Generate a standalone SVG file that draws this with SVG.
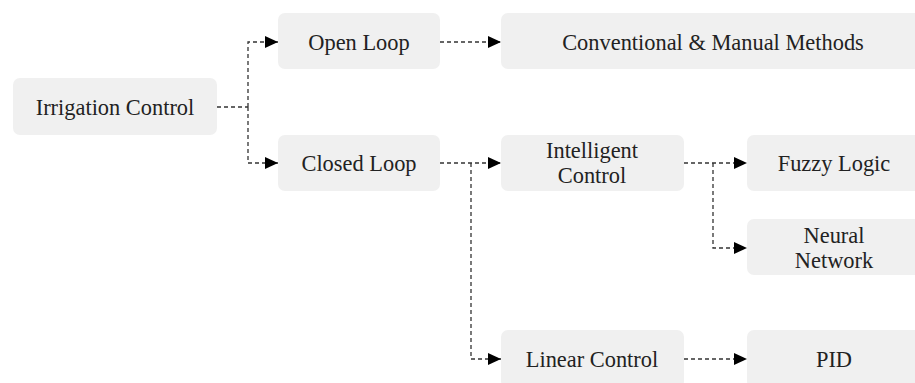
<svg xmlns="http://www.w3.org/2000/svg" width="915" height="383" viewBox="0 0 915 383">
  <style>
    .box { fill: #f0f0f0; }
    .lbl { font-family: 'Liberation Serif', 'Times New Roman', Times, serif; font-size: 22.4px; fill: #222; text-anchor: middle; }
    .link { fill: none; stroke: #333; stroke-width: 1.3; stroke-dasharray: 4 3; }
    .arr { marker-end: url(#head); }
  </style>
  <defs>
    <marker id="head" markerUnits="userSpaceOnUse" markerWidth="13" markerHeight="12" refX="13" refY="6" orient="auto">
      <path d="M0,0 L13,6 L0,12 z" fill="#000"/>
    </marker>
  </defs>
  <rect width="915" height="383" fill="#fff"/>

  <g id="connectors">
    <path class="link" d="M217,107 H248"/>
    <path class="link arr" d="M248,107 V42 H278"/>
    <path class="link arr" d="M248,107 V163 H278"/>
    <path class="link arr" d="M440,42 H501"/>
    <path class="link arr" d="M440,163 H501"/>
    <path class="link arr" d="M471,163 V359 H501"/>
    <path class="link arr" d="M684,163 H747"/>
    <path class="link arr" d="M713,163 V248 H747"/>
    <path class="link arr" d="M684,359 H747"/>
  </g>

  <g id="irrigation-control">
    <rect class="box" x="13" y="78" width="204" height="57" rx="7"/>
    <text class="lbl" x="115" y="115">Irrigation Control</text>
  </g>
  <g id="open-loop">
    <rect class="box" x="278" y="13" width="162" height="56" rx="7"/>
    <text class="lbl" x="359" y="50">Open Loop</text>
  </g>
  <g id="conventional-manual">
    <rect class="box" x="501" y="13" width="424" height="56" rx="7"/>
    <text class="lbl" x="713" y="50">Conventional &amp; Manual Methods</text>
  </g>
  <g id="closed-loop">
    <rect class="box" x="278" y="135" width="162" height="56" rx="7"/>
    <text class="lbl" x="359" y="171">Closed Loop</text>
  </g>
  <g id="intelligent-control">
    <rect class="box" x="501" y="135" width="183" height="56" rx="7"/>
    <text class="lbl" x="592" y="158">Intelligent</text>
    <text class="lbl" x="592" y="183">Control</text>
  </g>
  <g id="fuzzy-logic">
    <rect class="box" x="747" y="135" width="175" height="56" rx="7"/>
    <text class="lbl" x="834" y="171">Fuzzy Logic</text>
  </g>
  <g id="neural-network">
    <rect class="box" x="747" y="219" width="175" height="56" rx="7"/>
    <text class="lbl" x="834" y="243">Neural</text>
    <text class="lbl" x="834" y="268">Network</text>
  </g>
  <g id="linear-control">
    <rect class="box" x="501" y="330" width="183" height="58" rx="7"/>
    <text class="lbl" x="592" y="367">Linear Control</text>
  </g>
  <g id="pid">
    <rect class="box" x="747" y="330" width="175" height="58" rx="7"/>
    <text class="lbl" x="834" y="367">PID</text>
  </g>
</svg>
